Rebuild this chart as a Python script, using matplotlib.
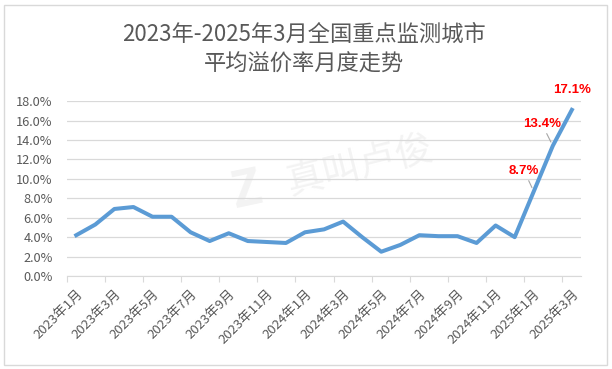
import matplotlib
matplotlib.use('Agg')
import matplotlib.pyplot as plt
from matplotlib.patches import Rectangle
from matplotlib.ticker import FixedLocator, FuncFormatter

plt.rcParams['font.family'] = ['Noto Sans CJK SC', 'DejaVu Sans']

# monthly average premium rate, Jan 2023 - Mar 2025 (%)
months = [f'{y}年{m}月' for y in (2023, 2024) for m in range(1, 13)] + ['2025年1月', '2025年2月', '2025年3月']
premium = [4.2, 5.3, 6.9, 7.1, 6.1, 6.1, 4.5, 3.6, 4.4, 3.6, 3.5, 3.4,
           4.5, 4.8, 5.6, 4.0, 2.5, 3.2, 4.2, 4.1, 4.1, 3.4, 5.2, 4.0,
           8.7, 13.4, 17.1]
yticks = [0, 2, 4, 6, 8, 10, 12, 14, 16, 18]

# labelled points: index, text offset in points, leader line?
labels = [(24, (-7, 15), True), (25, (-8, 16), True), (26, (0, 14), False)]

grey = '#595959'
fig = plt.figure(figsize=(6.12, 3.69), dpi=100)
fig.patches.append(Rectangle((0.007, 0.012), 0.985, 0.975, transform=fig.transFigure,
                             fill=False, edgecolor='#d9d9d9', lw=1))
ax = fig.add_axes([0.109, 0.252, 0.841, 0.474])

x = list(range(len(months)))
ax.plot(x, premium, color='#5B9BD5', lw=2.9, solid_joinstyle='round', zorder=3)

# faint watermark
ax.text(0.35, 0.49, 'Z', transform=ax.transAxes, fontsize=36, fontweight='bold',
        color='#f3f3f3', ha='center', va='center', rotation=12, zorder=1)
ax.text(0.57, 0.63, '真叫卢俊', transform=ax.transAxes, fontsize=27,
        color='#f3f3f3', ha='center', va='center', rotation=14, zorder=1)

for i, off, leader in labels:
    ax.annotate(f'{premium[i]:.1f}%', xy=(i, premium[i]), xytext=off,
                textcoords='offset points', ha='center', va='center',
                fontsize=9.5, fontweight='bold', color='#ff0000',
                family=['Liberation Sans', 'DejaVu Sans'], annotation_clip=False,
                arrowprops=dict(arrowstyle='-', color='#a6a6a6', lw=0.8,
                                shrinkA=1, shrinkB=3) if leader else None)

ax.set_xlim(-0.5, len(months) - 0.5)
ax.set_ylim(0, 18)
ax.set_yticks(yticks)
ax.yaxis.set_major_formatter(FuncFormatter(lambda v, p: f'{v:.1f}%'))
ax.grid(axis='y', color='#d9d9d9', lw=0.9, zorder=0)
ax.tick_params(axis='y', length=0, labelsize=9.2, labelcolor=grey, pad=10)

# ticks between categories every 2 months, labels on odd months
ax.xaxis.set_major_locator(FixedLocator([i - 0.5 for i in range(0, len(months), 2)]))
ax.xaxis.set_major_formatter(FuncFormatter(lambda v, p: ''))
ax.set_xticks(list(range(0, len(months), 2)), [months[i] for i in range(0, len(months), 2)],
              minor=True)
ax.tick_params(axis='x', which='major', length=4, color='#d9d9d9', direction='out')
ax.tick_params(axis='x', which='minor', length=0, labelsize=9.5, labelcolor=grey,
               labelrotation=45, pad=8)
for t in ax.get_xticklabels(minor=True):
    t.set_ha('right')
    t.set_rotation_mode('anchor')

for s in ('top', 'right', 'left'):
    ax.spines[s].set_visible(False)
ax.spines['bottom'].set_color('#d9d9d9')

fig.text(0.497, 0.867, '2023年-2025年3月全国重点监测城市\n平均溢价率月度走势',
         ha='center', va='center', fontsize=16, color=grey, linespacing=1.35)

fig.savefig('out.png', dpi=100)
